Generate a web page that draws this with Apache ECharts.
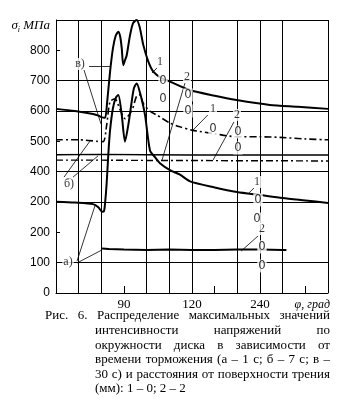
<!DOCTYPE html>
<html>
<head>
<meta charset="utf-8">
<script src="https://cdn.jsdelivr.net/npm/echarts@6/dist/echarts.min.js"></script>
<style>
html,body{margin:0;padding:0;background:#fff;}
#chart{width:357px;height:407px;}
</style>
</head>
<body>
<div id="chart"></div>
<script>
// ---------- data (angle in degrees, stress in MPa) ----------
// в) curve 1 (upper, solid)
const v1Deg = [0, 25, 49, 57, 61, 65, 67.5, 71.5, 75.4, 79, 82.5, 85, 87, 89, 91, 93.6, 98, 102, 106.8, 111, 115.5, 122.2, 128.8, 139.9, 150.9, 177, 210, 239, 283, 320, 360];
const v1Val = [607, 600, 590, 584, 579, 578, 624, 728, 807, 848, 861, 845, 807, 751, 765, 784, 850, 890, 900, 874, 818, 763, 730, 708, 697, 669, 650, 636, 620, 614, 607];
// а) curve 1 (solid, with peaks and long descent)
const a1Deg = [0, 25, 49, 56, 61, 63.5, 65, 67, 69.2, 71.5, 75.4, 79.4, 82.5, 87, 91.3, 95.7, 100.2, 103.2, 106.8, 111.2, 117.8, 124.4, 131, 137.6, 150.9, 164.1, 177.4, 210, 239.6, 270, 300, 330, 360];
const a1Val = [301, 298, 293, 283, 268, 270, 297, 360, 455, 535, 610, 645, 653, 587, 499, 554, 631, 676, 691, 660, 587, 470, 448, 428, 405, 390, 368, 348, 333, 323, 313, 305, 297];
// а) curve 2 (solid, low)
const a2Deg = [61, 70, 90, 120, 150, 180, 210, 240, 270, 300, 305];
const a2Val = [147, 145, 143, 142, 143, 142, 142, 143, 143, 142, 142];
// б) curve 1 (dash-dot, with peaks)
const b1Deg = [0, 30, 55, 62.6, 67.1, 71.5, 78.1, 84.7, 91.3, 100.2, 106.8, 111.2, 115.5, 124, 133.3, 150.9, 164, 179.6, 210, 239.2, 270, 296.5, 330, 360];
const b1Val = [505, 505, 500, 499, 554, 631, 640, 605, 575, 600, 650, 653, 625, 600, 587, 560, 548, 537, 525, 515, 515, 513, 508, 505];
// б) curve 2 (dash-dot, flat)
const b2Deg = [0, 60, 120, 180, 240, 300, 360];
const b2Val = [438, 438, 437, 437, 436, 436, 435];
// solid flat line near 455
const sDeg = [0, 60, 120, 180, 240, 300, 360];
const sVal = [456, 457, 456, 455, 455, 455, 455];

// axis ticks / labels
const xLabelAt = [90, 180, 270];
const xLabelText = ['90', '120', '240'];
const yLabelAt = [0, 100, 200, 300, 400, 500, 600, 700, 800];
const yLabelText = ['0', '100', '200', '200', '400', '500', '600', '700', '800'];
const gridV = [30, 60, 120, 150, 180, 240, 270, 300, 360];
const gridH = [100, 300, 400, 600, 700, 900];

// annotations
const annText = ['в)', 'б)', 'а)', '1', '2', '1', '2', '1', '2'];
const annDeg = [31.8, 17.2, 15.9, 137.6, 173.4, 207.8, 239.6, 266, 272.6];
const annVal = [755, 359, 102, 762, 712, 607, 587, 366, 211];
const zeroDeg = [141.6, 141.6, 174.7, 174.7, 207.8, 240.9, 240.9, 267.4, 266, 272.6, 272.6];
const zeroVal = [699, 640, 653, 600, 541, 531, 478, 307, 244, 152, 89];
const leaderFrom = [[43.7, 748], [37.1, 735], [10.6, 382], [22.5, 382], [27.8, 105], [27.8, 99], [133.7, 742], [170.7, 692], [201, 587], [235.6, 564], [262, 346], [267.4, 188]];
const leaderTo = [[71.5, 748], [59.6, 557], [45, 501], [55.6, 452], [51.6, 288], [60.9, 142], [127, 725], [140.3, 438], [181.3, 537], [207.8, 438], [255.4, 330], [244.9, 138]];

// caption
const captionLines = [
  'Рис. 6. Распределение максимальных значений',
  'интенсивности напряжений по',
  'окружности диска в зависимости от',
  'времени торможения (а – 1 с; б – 7 с; в –',
  '30 с) и расстояния от поверхности трения',
  '(мм): 1 – 0; 2 – 2'
];

// ---------- build ----------
const zip = (d, v) => d.map((x, i) => [x, v[i]]);
const SERIF = '"Liberation Serif", "DejaVu Serif", serif';
const dashDot = [7, 3, 2, 3];

const chart = echarts.init(document.getElementById('chart'), null, {renderer: 'canvas'});

const labelData = annText.map((t, i) => ({value: [annDeg[i], annVal[i]], name: t,
  label: {fontFamily: SERIF, fontSize: 12}}))
  .concat(zeroDeg.map((d, i) => ({value: [d, zeroVal[i]], name: '0',
  label: {fontFamily: '"DejaVu Sans Condensed", "Liberation Sans Narrow", "Liberation Sans", sans-serif', fontSize: 13}})));

const option = {
  animation: false,
  backgroundColor: '#fff',
  grid: {left: 56, right: 29, top: 20, bottom: 114, containLabel: false},
  xAxis: {
    type: 'value', min: 0, max: 360, interval: 30,
    name: 'φ, град', nameLocation: 'end', nameGap: 2,
    nameTextStyle: {fontFamily: SERIF, fontStyle: 'italic', fontSize: 12, color: '#000', align: 'right', verticalAlign: 'top', padding: [6, 0, 0, 0]},
    axisLine: {lineStyle: {color: '#000', width: 1}},
    axisTick: {inside: true, length: 7, lineStyle: {color: '#000'}},
    axisLabel: {
      color: '#000', fontFamily: SERIF, fontSize: 13, margin: 5,
      formatter: v => { const k = xLabelAt.indexOf(v); return k >= 0 ? xLabelText[k] : ''; }
    },
    splitLine: {show: false}
  },
  yAxis: {
    type: 'value', min: 0, max: 900, interval: 100,
    name: '{g|σ}{s|i}{m| МПа}', nameLocation: 'end', nameGap: -6,
    nameTextStyle: {align: 'right', verticalAlign: 'middle', padding: [0, 6, 0, 0],
      rich: {
        g: {fontFamily: SERIF, fontStyle: 'italic', fontSize: 13, color: '#000'},
        s: {fontFamily: SERIF, fontStyle: 'italic', fontSize: 8, color: '#000', padding: [7, 0, 0, 0]},
        m: {fontFamily: SERIF, fontStyle: 'italic', fontSize: 13, color: '#000'}
      }},
    axisLine: {show: true, lineStyle: {color: '#000', width: 1}},
    axisTick: {show: true, inside: true, length: 4, lineStyle: {color: '#000'}},
    axisLabel: {
      color: '#000', fontFamily: '"Liberation Sans", Arial, sans-serif', fontSize: 12, margin: 6,
      formatter: v => { const k = yLabelAt.indexOf(v); return k >= 0 ? yLabelText[k] : ''; }
    },
    splitLine: {show: false}
  },
  series: [
    {
      name: 'б) 2', type: 'line', data: zip(b2Deg, b2Val), showSymbol: false, z: 3,
      lineStyle: {color: '#000', width: 1.4, type: dashDot},
      markLine: {
        silent: true, symbol: 'none', label: {show: false},
        lineStyle: {color: '#000', width: 1, type: 'solid'},
        data: gridV.map(v => ({xAxis: v})).concat(gridH.map(v => ({yAxis: v})))
      }
    },
    {name: 'solid 455', type: 'line', data: zip(sDeg, sVal), showSymbol: false, z: 3,
      lineStyle: {color: '#000', width: 1.4}},
    {name: 'б) 1', type: 'line', data: zip(b1Deg, b1Val), showSymbol: false, smooth: 0.25, z: 3,
      lineStyle: {color: '#000', width: 1.6, type: dashDot}},
    {name: 'а) 2', type: 'line', data: zip(a2Deg, a2Val), showSymbol: false, z: 4,
      lineStyle: {color: '#000', width: 2}},
    {name: 'а) 1', type: 'line', data: zip(a1Deg, a1Val), showSymbol: false, smooth: 0.25, z: 4,
      lineStyle: {color: '#000', width: 2}},
    {name: 'в) 1', type: 'line', data: zip(v1Deg, v1Val), showSymbol: false, smooth: 0.25, z: 4,
      lineStyle: {color: '#000', width: 2}},
    {
      name: 'labels', type: 'scatter', data: labelData, symbolSize: 1, z: 6,
      itemStyle: {color: 'rgba(0,0,0,0)'},
      label: {show: true, position: 'inside', formatter: '{b}', color: '#000', backgroundColor: '#fff', padding: [0, 1]},
      markLine: {
        silent: true, symbol: 'none', label: {show: false},
        lineStyle: {color: '#000', width: 0.8, type: 'solid'},
        data: leaderFrom.map((f, i) => [{coord: f}, {coord: leaderTo[i]}])
      }
    }
  ]
};
chart.setOption(option);

// caption: justified lines
const FONT = '13px "Liberation Serif"';
const ctx = document.createElement('canvas').getContext('2d');
ctx.font = FONT;
const graphics = [];
const lineY0 = 316, lineStep = 14.6, xRight = 330;
captionLines.forEach((line, i) => {
  const x0 = i === 0 ? 45 : 95;
  const words = line.split(' ');
  const widths = words.map(w => ctx.measureText(w).width);
  const total = widths.reduce((a, b) => a + b, 0);
  const justify = i < captionLines.length - 1;
  const gap = justify ? (xRight - x0 - total) / (words.length - 1) : ctx.measureText(' ').width;
  let x = x0;
  words.forEach((w, k) => {
    graphics.push({type: 'text', x: x, y: lineY0 + i * lineStep,
      style: {text: w, font: FONT, fill: '#000', textVerticalAlign: 'middle', textAlign: 'left'}});
    x += widths[k] + gap;
  });
});
chart.setOption({graphic: graphics});
</script>
</body>
</html>
